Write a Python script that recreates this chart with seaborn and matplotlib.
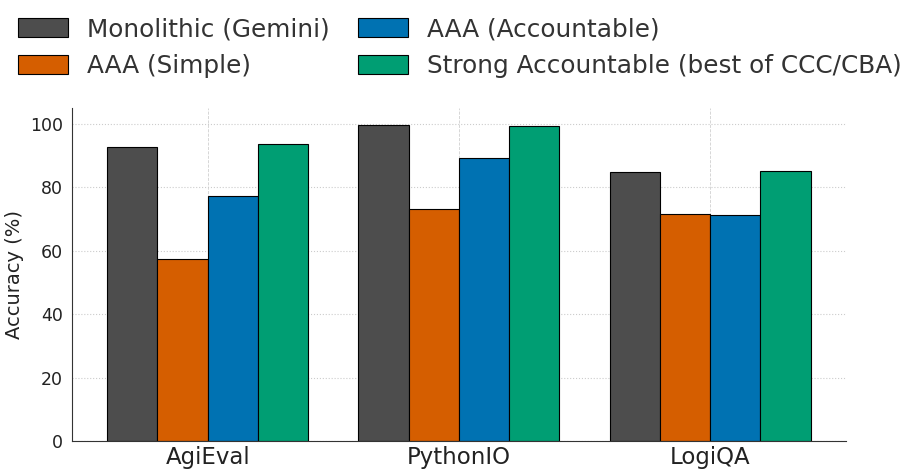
import matplotlib
matplotlib.use("Agg")
import matplotlib.pyplot as plt
import seaborn as sns
import pandas as pd

# Dados
datasets = ["AgiEval", "PythonIO", "LogiQA"]
methods = ["Monolithic (Gemini)", "AAA (Simple)", "AAA (Accountable)",
           "Strong Accountable (best of CCC/CBA)"]
monolithic = [92.6, 99.5, 84.7]
aaa_simple = [57.5, 73.3, 71.6]
aaa_accountable = [77.3, 89.1, 71.4]
strong_accountable = [93.8, 99.4, 85.3]
colors = ["#4d4d4d", "#d55e00", "#0072b2", "#009e73"]

rows = []
for m, vals in zip(methods, [monolithic, aaa_simple, aaa_accountable, strong_accountable]):
    for d, v in zip(datasets, vals):
        rows.append({"Dataset": d, "Method": m, "Accuracy": v})
df = pd.DataFrame(rows)

sns.set_style("white")
plt.rcParams["font.family"] = ["DejaVu Sans"]

fig = plt.figure(figsize=(9.17, 4.76), dpi=100)
ax = fig.add_axes([0.0785, 0.0735, 0.844, 0.6995])

sns.barplot(data=df, x="Dataset", y="Accuracy", hue="Method", order=datasets,
            hue_order=methods, palette=colors, saturation=1, edgecolor="black",
            linewidth=0.8, width=0.8, ax=ax, legend=True)

ax.set_xlim(-0.54, 2.54)
ax.set_ylim(0, 105)
ax.set_yticks([0, 20, 40, 60, 80, 100])
ax.set_xlabel("")
ax.set_ylabel("Accuracy (%)", fontsize=14, color="#222222")
ax.tick_params(axis="x", labelsize=16.5, length=0, colors="#222222")
ax.tick_params(axis="y", labelsize=12.5, length=3, colors="#222222")
ax.yaxis.grid(True, linestyle=":", linewidth=0.8, color="#cccccc")
ax.xaxis.grid(True, linestyle="--", linewidth=0.6, color="#d0d0d0")
ax.set_axisbelow(True)
sns.despine(ax=ax)
for s in ["left", "bottom"]:
    ax.spines[s].set_color("#333333")

handles, labels = ax.get_legend_handles_labels()
ax.get_legend().remove()
fig.legend(handles, labels, loc="upper left", bbox_to_anchor=(0.0025, 0.998), ncol=2,
           frameon=False, fontsize=17.8, handlelength=2.02, handleheight=0.81,
           handletextpad=0.77, labelspacing=0.54, columnspacing=1.13,
           borderaxespad=0.25, labelcolor="#333333")

plt.savefig("out.png", dpi=100)
